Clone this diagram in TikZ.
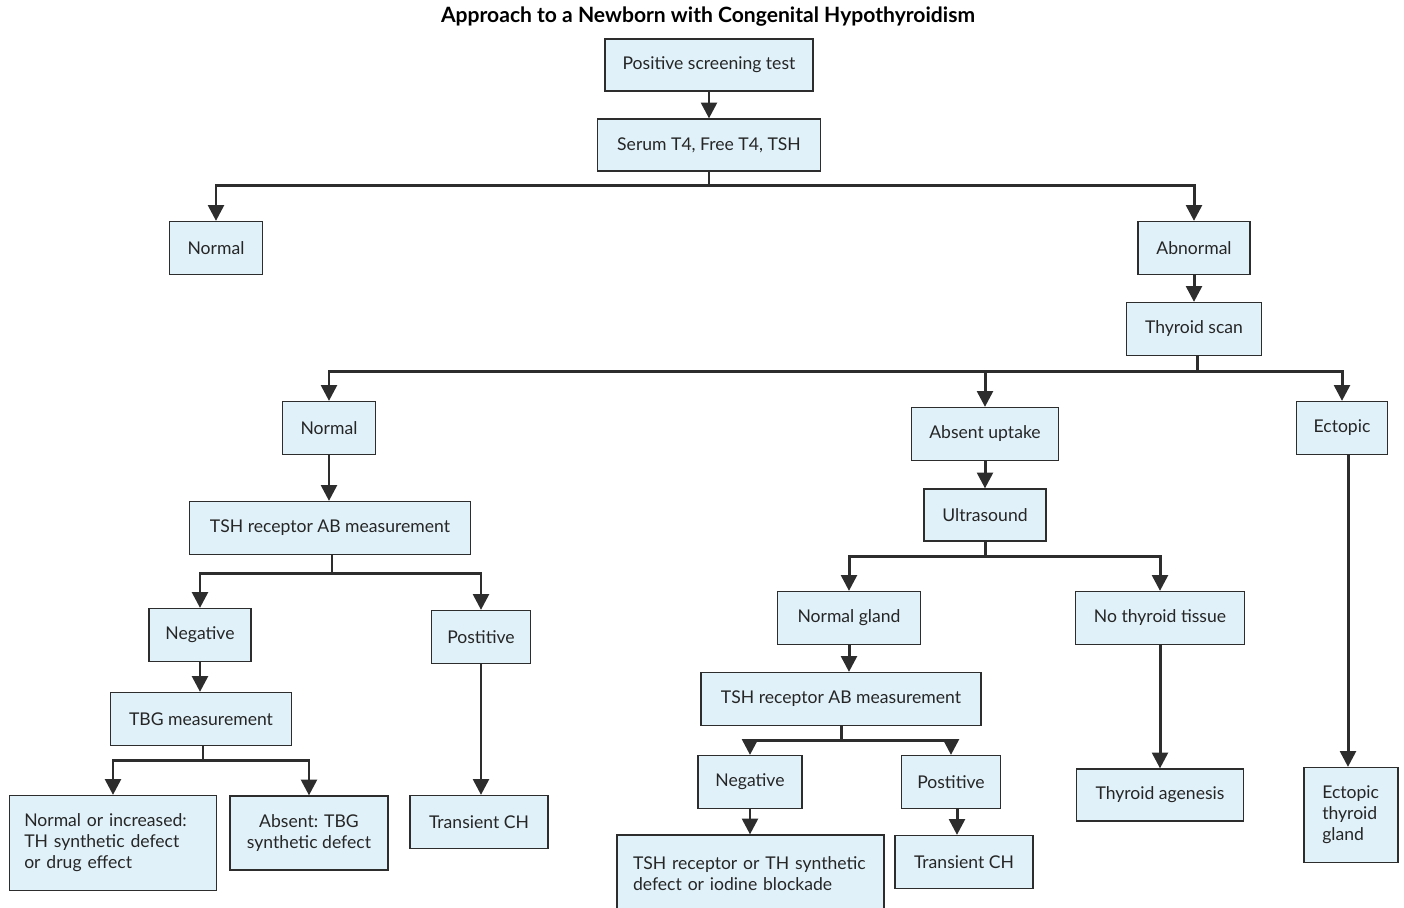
\documentclass[tikz,border=0pt]{standalone}
\usepackage{fontspec}
\setmainfont{Lato}
\usetikzlibrary{arrows.meta}
\definecolor{boxblue}{RGB}{224,241,249}
\definecolor{edgegray}{RGB}{45,45,45}
\tikzset{
  box/.style={draw=edgegray,line width=0.7pt,fill=boxblue,inner sep=0pt,font=\fontsize{10}{12}\selectfont,text=black!85},
  mbox/.style={box,align=left},
  arr/.style={line width=1.7pt,edgegray,-{Triangle[length=9pt,width=9pt]}},
  bus/.style={line width=1.7pt,edgegray},
  every picture/.style={x=0.02cm,y=-0.02cm}
}

\begin{document}
\begin{tikzpicture}
  \useasboundingbox (0,0) rectangle (1404,907);
  \node[font=\bfseries\fontsize{12}{14}\selectfont] (title) at (708,17) {Approach to a Newborn with Congenital Hypothyroidism};
  % top of the tree
  \node[box,minimum width=4.16cm,minimum height=1.04cm] (pst) at (709,65) {Positive screening test};
  \node[box,minimum width=4.46cm,minimum height=1.04cm] (serum) at (709,145) {Serum T4, Free T4, TSH};
  \node[box,minimum width=1.86cm,minimum height=1.06cm] (norm) at (216,248) {Normal};
  \node[box,minimum width=2.24cm,minimum height=1.06cm] (abn) at (1194,248) {Abnormal};
  \node[box,minimum width=2.70cm,minimum height=1.06cm] (scan) at (1194,329) {Thyroid scan};
  % scan results
  \node[box,minimum width=1.86cm,minimum height=1.06cm] (snorm) at (329,428) {Normal};
  \node[box,minimum width=2.94cm,minimum height=1.06cm] (absent) at (985,434) {Absent uptake};
  \node[box,minimum width=1.82cm,minimum height=1.06cm] (ecto) at (1342,428) {Ectopic};
  % normal scan branch
  \node[box,minimum width=5.62cm,minimum height=1.06cm] (tshab) at (330,528) {TSH receptor AB measurement};
  \node[box,minimum width=2.04cm,minimum height=1.06cm] (neg) at (200,635) {Negative};
  \node[box,minimum width=1.98cm,minimum height=1.06cm] (pos) at (481,637) {Postitive};
  \node[box,minimum width=3.62cm,minimum height=1.06cm] (tbg) at (201,719) {TBG measurement};
  \node[mbox,minimum width=4.14cm,minimum height=1.90cm,text width=3.55cm] (normInc) at (113,843) {Normal or increased:\\TH synthetic defect\\or drug effect};
  \node[box,align=center,minimum width=3.16cm,minimum height=1.48cm] (absTbg) at (309,833) {Absent: TBG\\synthetic defect};
  \node[box,minimum width=2.76cm,minimum height=1.06cm] (trans) at (479,822) {Transient CH};
  % absent uptake branch
  \node[box,minimum width=2.44cm,minimum height=1.04cm] (ultra) at (985,515) {Ultrasound};
  \node[box,minimum width=2.86cm,minimum height=1.06cm] (gland) at (849,618) {Normal gland};
  \node[box,minimum width=3.38cm,minimum height=1.06cm] (notis) at (1160,618) {No thyroid tissue};
  \node[box,minimum width=5.60cm,minimum height=1.06cm] (tshabb) at (841,699) {TSH receptor AB measurement};
  \node[box,minimum width=2.08cm,minimum height=1.06cm] (negb) at (750,782) {Negative};
  \node[box,minimum width=1.98cm,minimum height=1.06cm] (posb) at (951,782) {Postitive};
  \node[mbox,minimum width=5.34cm,minimum height=1.56cm,text width=4.7cm] (rec) at (750.5,874) {TSH receptor or TH synthetic\\defect or iodine blockade};
  \node[box,minimum width=2.76cm,minimum height=1.06cm] (transb) at (964,862) {Transient CH};
  \node[box,minimum width=3.34cm,minimum height=1.04cm] (agen) at (1160,795) {Thyroid agenesis};
  \node[mbox,minimum width=1.88cm,minimum height=1.90cm,text width=1.15cm] (egland) at (1351,815) {Ectopic\\thyroid\\gland};
  % junctions
  \coordinate (j1) at (709,185);
  \coordinate (j2) at (1197,371);
  \coordinate (j3) at (332,573);
  \coordinate (j4) at (203,760);
  \coordinate (j5) at (985,556);
  \coordinate (j6) at (841,740);
  % connectors
  \draw[arr] (pst) -- (serum);
  \draw[bus] (serum) -- (j1);
  \draw[arr] (j1) -| (norm);
  \draw[arr] (j1) -| (abn);
  \draw[arr] (abn) -- (scan);
  \draw[bus] (scan.south -| j2) -- (j2);
  \draw[arr] (j2) -| (snorm);
  \draw[arr] (j2) -| (absent);
  \draw[arr] (j2) -| (ecto);
  \draw[arr] (snorm) -- (snorm |- tshab.north);
  \draw[bus] (tshab.south -| j3) -- (j3);
  \draw[arr] (j3) -| (neg);
  \draw[arr] (j3) -| (pos);
  \draw[arr] (neg) -- (neg |- tbg.north);
  \draw[bus] (tbg.south -| j4) -- (j4);
  \draw[arr] (j4) -| (normInc);
  \draw[arr] (j4) -| (absTbg);
  \draw[arr] (pos) -- (pos |- trans.north);
  \draw[arr] (absent) -- (ultra);
  \draw[bus] (ultra) -- (j5);
  \draw[arr] (j5) -| (gland);
  \draw[arr] (j5) -| (notis);
  \draw[arr] (gland) -- (gland |- tshabb.north);
  \draw[bus] (tshabb) -- (j6);
  \draw[arr] (j6) -| (negb);
  \draw[arr] (j6) -| (posb);
  \draw[arr] (negb) -- (negb |- rec.north);
  \draw[arr] ([xshift=0.12cm]posb.south) -- ([xshift=0.12cm]posb.south |- transb.north);
  \draw[arr] (notis) -- (agen);
  \draw[arr] ([xshift=0.12cm]ecto.south) -- ([xshift=0.12cm]ecto.south |- egland.north);
\end{tikzpicture}
\end{document}
